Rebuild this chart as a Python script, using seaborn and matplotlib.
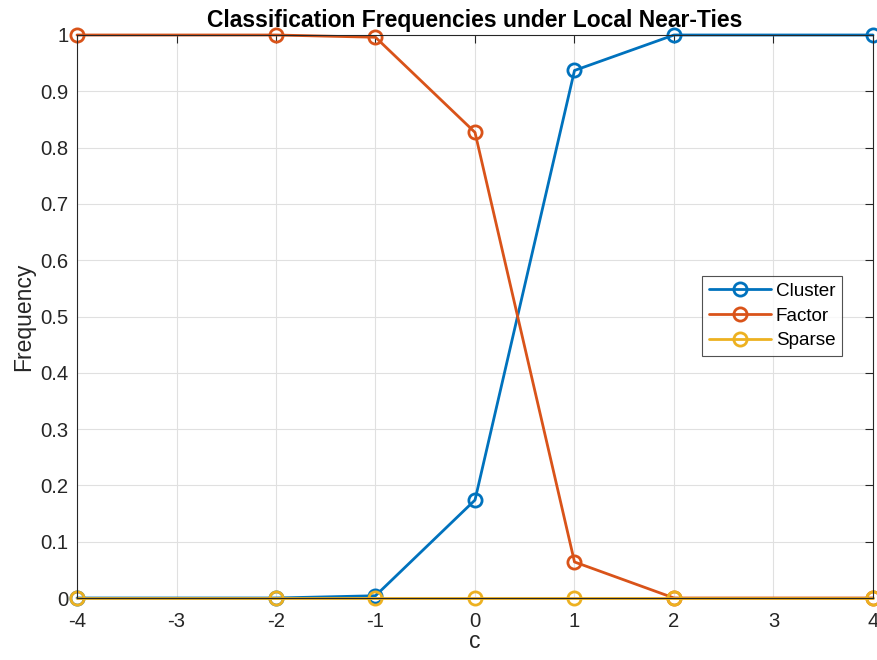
import matplotlib
matplotlib.use("Agg")
import matplotlib.pyplot as plt
from matplotlib.lines import Line2D
import seaborn as sns
import pandas as pd

c_values = [-4, -2, -1, 0, 1, 2, 4]
cluster = [0.0, 0.0, 0.004, 0.174, 0.937, 1.0, 1.0]
factor = [1.0, 1.0, 0.996, 0.827, 0.064, 0.0, 0.0]
sparse = [0.0, 0.0, 0.0, 0.0, 0.0, 0.0, 0.0]
series_names = ["Cluster", "Factor", "Sparse"]
series_colors = ["#0072BD", "#D95319", "#EDB120"]

df = pd.DataFrame({
    "c": c_values * 3,
    "Frequency": cluster + factor + sparse,
    "method": [n for n in series_names for _ in c_values],
})

sns.set_theme(style="white")
plt.rcParams["font.family"] = ["Liberation Sans", "DejaVu Sans"]
plt.rcParams["axes.unicode_minus"] = False

fig = plt.figure(figsize=(8.78, 6.6), dpi=100)
ax = fig.add_axes([77 / 878, 1 - 598 / 660, (873 - 77) / 878, (598 - 35) / 660])

sns.lineplot(
    data=df, x="c", y="Frequency", hue="method", hue_order=series_names,
    palette=series_colors, marker="o", markersize=9.5, markerfacecolor="none",
    markeredgewidth=2, linewidth=2, ax=ax, legend=False, clip_on=False,
)
for line, col in zip(ax.lines, series_colors):
    line.set_markeredgecolor(col)

ax.set_xlim(-4, 4)
ax.set_ylim(0, 1)
ax.set_xticks(range(-4, 5))
ax.set_yticks([i / 10 for i in range(11)])
ax.set_yticklabels(["0"] + [f"{i/10:.1f}" for i in range(1, 10)] + ["1"])
ax.grid(True, color="#e0e0e0", linewidth=0.8)
ax.set_axisbelow(True)
for s in ax.spines.values():
    s.set_color("#262626")
    s.set_linewidth(0.8)
ax.tick_params(axis="both", which="both", direction="in", length=6, width=0.8,
               colors="#262626", labelsize=14.6, top=True, right=True,
               labelcolor="#262626")
ax.tick_params(axis="x", pad=10)
ax.tick_params(axis="y", pad=6)
ax.set_xlabel("c", fontsize=16.5, color="#262626", labelpad=-1)
ax.set_ylabel("Frequency", fontsize=16.5, color="#262626", labelpad=4)
ax.set_title("Classification Frequencies under Local Near-Ties",
             fontsize=16.5, fontweight="bold", pad=6, color="black")

handles = [Line2D([], [], color=col, marker="o", markersize=9.5,
                  markerfacecolor="none", markeredgewidth=2, linewidth=2)
           for col in series_colors]
leg = ax.legend(handles, series_names, loc="upper left",
                bbox_to_anchor=(702 / 878, 1 - 276 / 660),
                bbox_transform=fig.transFigure, fontsize=13.6, frameon=True,
                fancybox=False, edgecolor="#262626", handlelength=3.3,
                handletextpad=0.25, borderpad=0.35, labelspacing=0.4,
                borderaxespad=0)
leg.get_frame().set_linewidth(0.8)
for t in leg.get_texts():
    t.set_color("black")

fig.savefig("out.png", dpi=100)
